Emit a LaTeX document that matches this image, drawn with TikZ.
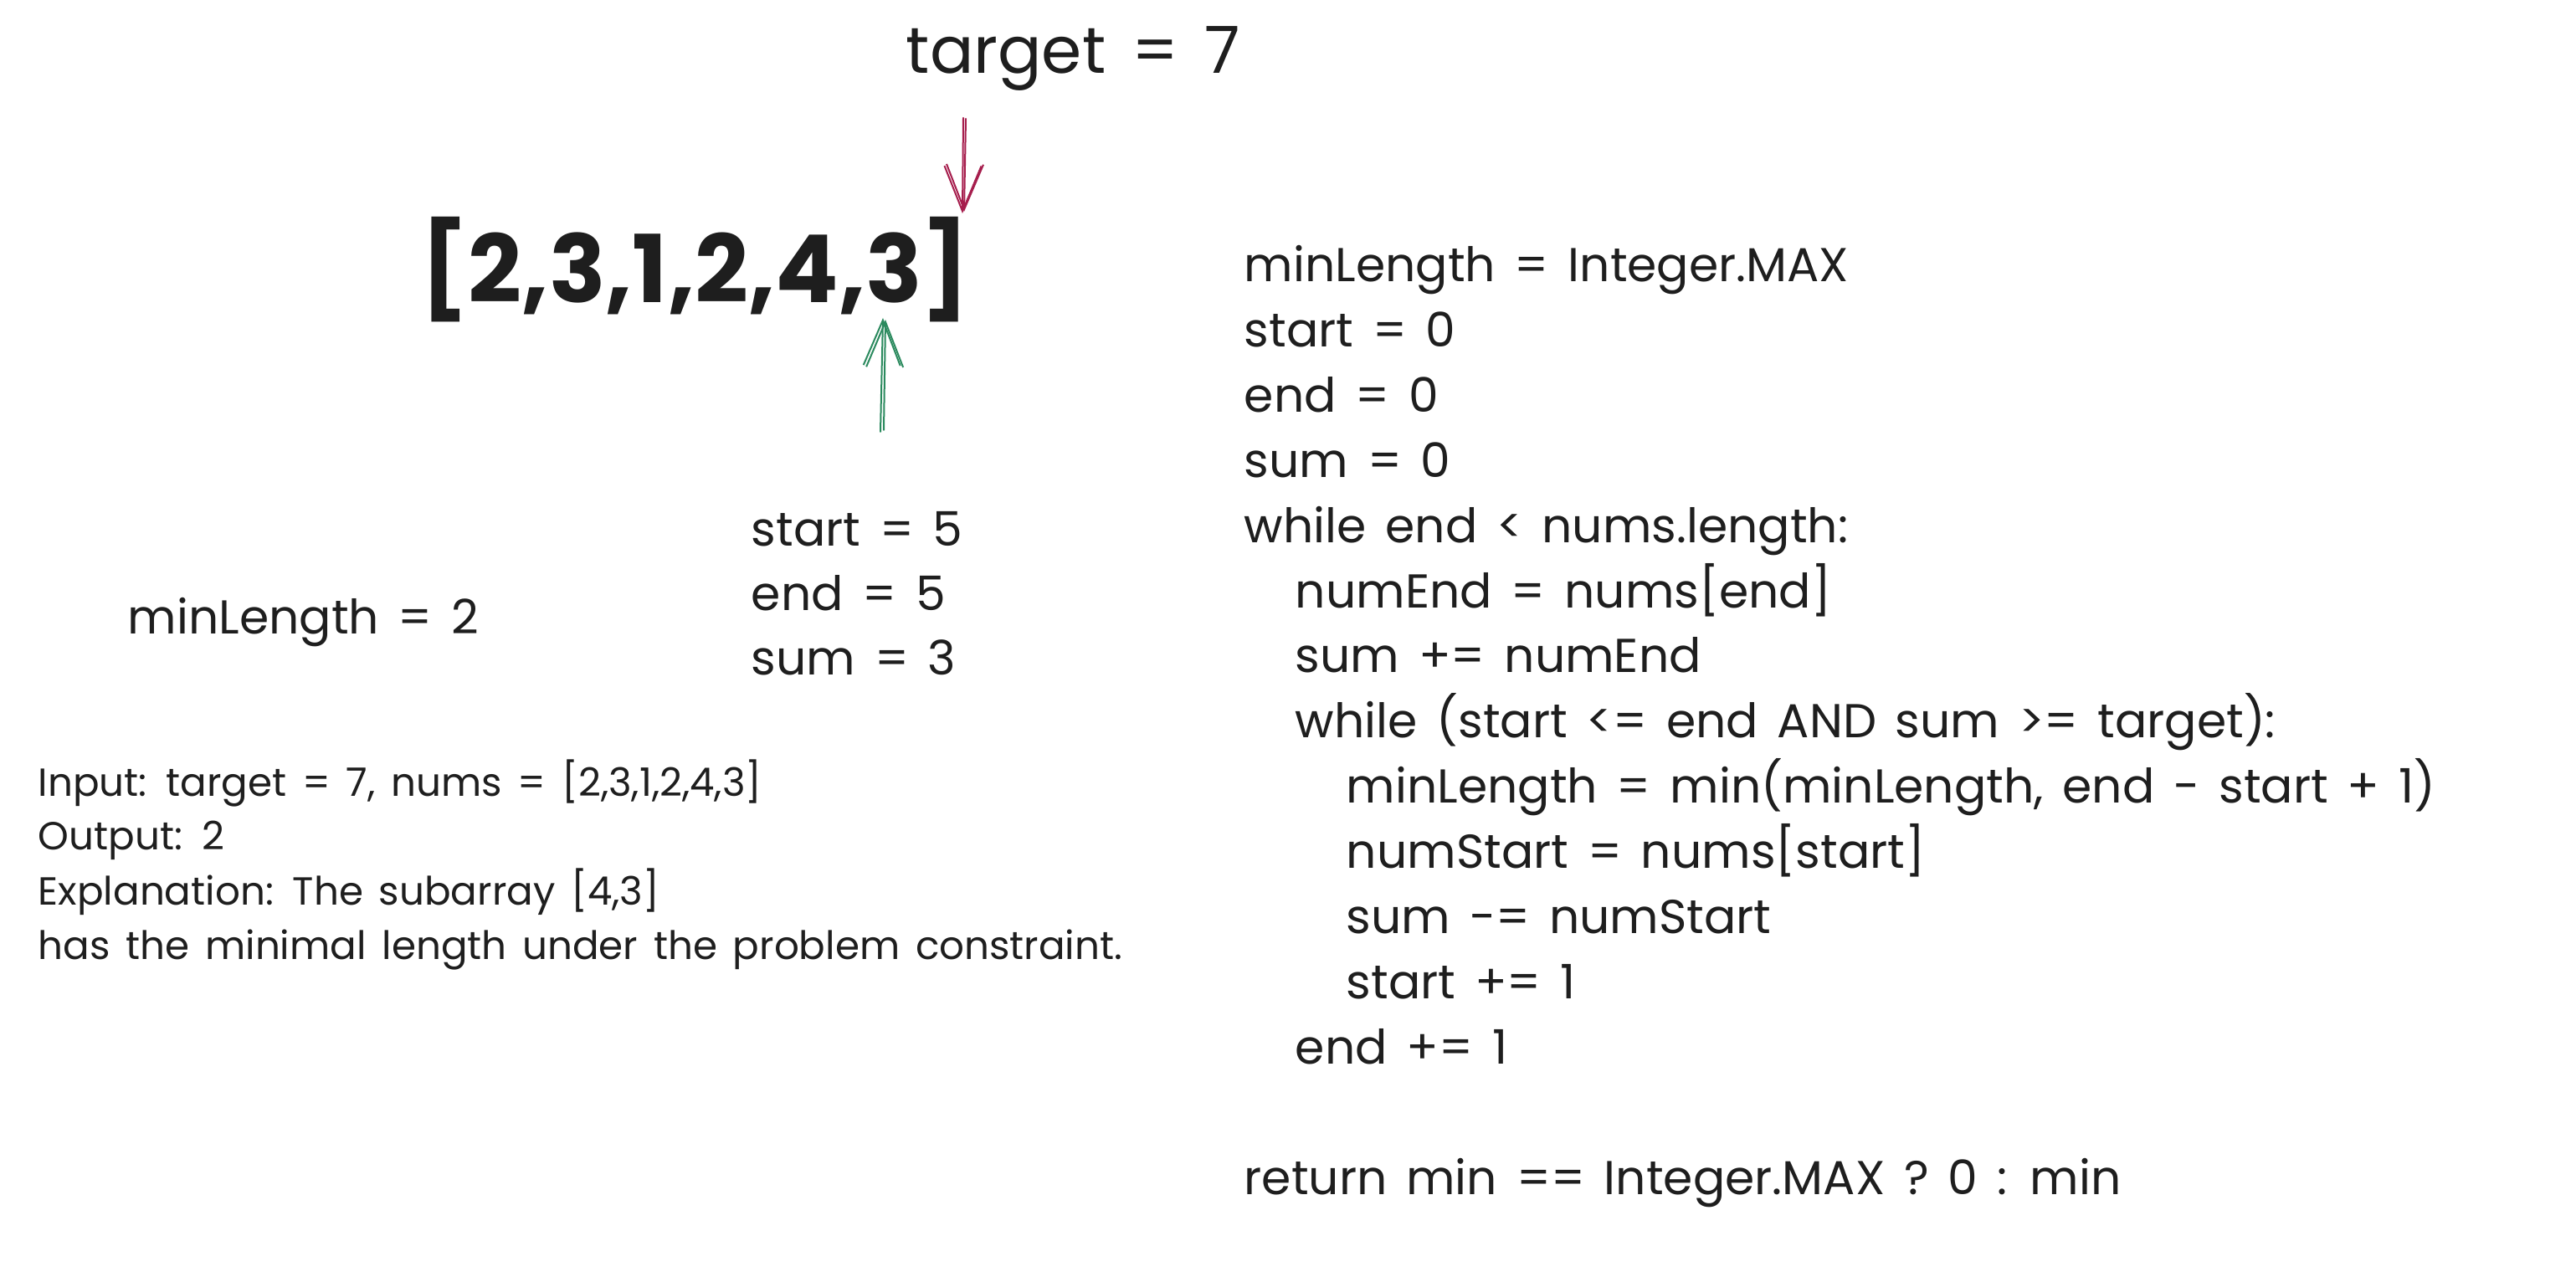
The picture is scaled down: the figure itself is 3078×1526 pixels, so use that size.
\documentclass[tikz,border=0pt]{standalone}
\usepackage{fontspec}
\setmainfont{Poppins}[WordSpace=1.5]
\usetikzlibrary{arrows.meta}
\definecolor{ink}{HTML}{1E1E1E}
\definecolor{pinkarrow}{HTML}{A61E4D}
\definecolor{tealarrow}{HTML}{2B8A5E}
\begin{document}
\begin{tikzpicture}[x=0.25pt,y=-0.25pt,
  txt/.style={anchor=base west, inner sep=0pt, text=ink},
  codetxt/.style={txt, font=\fontsize{14.2}{17}\selectfont},
  desctxt/.style={txt, font=\fontsize{11.7}{14}\selectfont},
  bigtxt/.style={txt, font=\fontsize{19.4}{23}\selectfont},
  arraytxt/.style={txt, font=\fontsize{28}{34}\selectfont\bfseries},
  sketcharrow/.style={line width=0.5pt, line cap=round,
    -{Straight Barb[length=13.5pt,width=11pt,line width=0.5pt]}}]
\fill[white] (0,0) rectangle (3078,1526);
\useasboundingbox (0,0) rectangle (3078,1526);

% title and array
\node[bigtxt] (tgt) at (1082,88) {target = 7};
\node[arraytxt] (arr) at (502,362) {[2,3,1,2,4,3]};

% state
\node[codetxt] (st) at (897,653) {start = 5};
\node[codetxt] (en) at (897,730) {end = 5};
\node[codetxt] (sm) at (897,807) {sum = 3};
\node[codetxt] (ml) at (152,758) {minLength = 2};

% description
\node[desctxt] (d1) at (45,952) {Input: target = 7, nums = [2,3,1,2,4,3]};
\node[desctxt] (d2) at (45,1016) {Output: 2};
\node[desctxt] (d3) at (45,1082) {Explanation: The subarray [4,3]};
\node[desctxt] (d4) at (45,1147) {has the minimal length under the problem constraint.};

% code
\node[codetxt] (c1) at (1486,337) {minLength = Integer.MAX};
\node[codetxt] (c2) at (1486,415) {start = 0};
\node[codetxt] (c3) at (1486,493) {end = 0};
\node[codetxt] (c4) at (1486,571) {sum = 0};
\node[codetxt] (c5) at (1486,649) {while end < nums.length:};
\node[codetxt] (c6) at (1547,727) {numEnd = nums[end]};
\node[codetxt] (c7) at (1547,804) {sum += numEnd};
\node[codetxt] (c8) at (1547,882) {while (start <= end AND sum >= target):};
\node[codetxt] (c9) at (1608,960) {minLength = min(minLength, end - start + 1)};
\node[codetxt] (c10) at (1608,1038) {numStart = nums[start]};
\node[codetxt] (c11) at (1608,1116) {sum -= numStart};
\node[codetxt] (c12) at (1608,1194) {start += 1};
\node[codetxt] (c13) at (1547,1272) {end += 1};
\node[codetxt] (c14) at (1486,1428) {return min == Integer.MAX ? 0 : min};

% arrows
\coordinate (ra1) at (1151,141);
\coordinate (rb1) at (1150,255);
\coordinate (ra2) at (1154,142);
\coordinate (rb2) at (1152,253);
\draw[sketcharrow, pinkarrow] (ra1) -- (rb1);
\draw[sketcharrow, pinkarrow] (ra2) -- (rb2);

\coordinate (ga1) at (1052,516);
\coordinate (gb1) at (1055,380);
\coordinate (ga2) at (1056,514);
\coordinate (gb2) at (1058,382);
\draw[sketcharrow, tealarrow] (ga1) -- (gb1);
\draw[sketcharrow, tealarrow] (ga2) -- (gb2);
\end{tikzpicture}
\end{document}
